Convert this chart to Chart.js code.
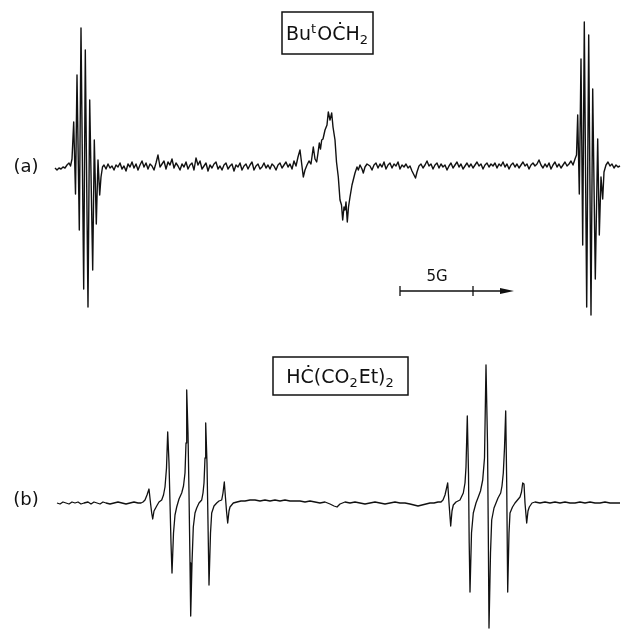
<!DOCTYPE html>
<html>
<head>
<meta charset="utf-8">
<title>EPR spectra</title>
<script src="https://cdn.jsdelivr.net/npm/chart.js@4.4.0/dist/chart.umd.min.js"></script>
<style>
    html, body { margin: 0; padding: 0; background: #ffffff; }
    canvas { display: block; }
</style>
</head>
<body>
<canvas id="eprChart" width="621" height="635"></canvas>
<script>
// ==========================================================================
// Spectrum data
// field = sweep position (scan units), signal = 1st-derivative deflection (up = +)
// ==========================================================================

// (a) ButOCH2 radical - noisy trace
const fieldA = [
    55, 57, 59, 61, 63, 65, 67, 69, 70.5, 72,
    73.7, 75.5, 77, 79.3, 81, 83.7, 85.3, 88, 89.7, 92.7,
    94.3, 96.3, 98, 99.7, 101, 102.5, 104, 106, 108, 110,
    112, 114, 116, 118, 120, 122, 124, 126, 128, 130,
    132, 134, 136, 138, 140, 142, 144, 146, 148, 150,
    152, 154, 156, 158, 160, 162, 164, 166, 168, 170,
    172, 174, 176, 178, 180, 182, 184, 186, 188, 190,
    192, 194, 196, 198, 200, 202, 204, 206, 208, 210,
    212, 214, 216, 218, 220, 222, 224, 226, 228, 230,
    232, 234, 236, 238, 240, 242, 244, 246, 248, 250,
    252, 254, 256, 258, 260, 262, 264, 266, 268, 270,
    272, 274, 276, 278, 280, 282, 284, 286, 288, 290,
    292, 294, 296, 298, 300, 303.3, 305, 307, 309, 311,
    313.3, 315, 316.7, 318, 319.3, 320.5, 321.7, 323, 325, 327,
    328.3, 330, 331.7, 333, 335, 336.5, 338.3, 340, 341.5, 342.7,
    344, 345, 346, 347.3, 348.5, 350, 352, 353.5, 355, 357,
    358.3, 360, 362, 363.3, 365, 367, 370, 372, 374, 376,
    378, 380, 382, 384, 386, 388, 390, 392, 394, 396,
    398, 400, 402, 404, 406, 408, 410, 412, 414, 415.5,
    417, 419, 421, 423, 425, 427, 429, 431, 433, 435,
    437, 439, 441, 443, 445, 447, 449, 451, 453, 455,
    457, 459, 461, 463, 465, 467, 469, 471, 473, 475,
    477, 479, 481, 483, 485, 487, 489, 491, 493, 495,
    497, 499, 501, 503, 505, 507, 509, 511, 513, 515,
    517, 519, 521, 523, 525, 527, 529, 531, 533, 535,
    537, 539, 541, 543, 545, 547, 549, 551, 553, 555,
    557, 559, 561, 563, 565, 567, 569, 571, 573, 575,
    576.5, 577.7, 579.3, 581, 582.7, 584.3, 586.7, 588.7, 591, 592.7,
    595.3, 597.7, 599.3, 601, 602.7, 604, 606, 608, 610, 612,
    614, 616, 618, 620
];
const signalA = [
    -1, -3, -1, -2, 0, -1, 2, 4, 1, 8,
    45, -27, 92, -63, 139, -122, 117, -140, 67, -103,
    27, -57, 7, -28, -10, 0, 2, -2, 3, -1,
    1, -3, 2, 0, 4, -2, 1, -4, 3, 0,
    5, -1, 3, -3, 2, 6, 0, 4, -2, 3,
    1, -3, 4, 12, 0, 3, 6, -2, 5, 2,
    8, -1, 4, 1, -3, 3, 0, 5, -2, 2,
    4, -3, 9, 2, 6, -2, 1, 4, -4, 2,
    -1, 3, 5, -2, 1, -3, 2, 4, -2, 1,
    3, -4, 2, 0, 4, -3, 1, 3, -2, 2,
    5, -3, 1, 3, -2, 0, 4, -1, 2, -2,
    3, 1, -3, 2, 4, -1, 2, 5, 0, 3,
    -2, 6, 1, 10, 17, -10, -3, 2, 6, 3,
    20, 8, 5, 14, 24, 18, 27, 28, 37, 42,
    55, 47, 54, 40, 27, 5, -10, -33, -38, -53,
    -40, -43, -35, -55, -40, -30, -18, -12, -6, 0,
    -3, 2, -2, -6, 0, 3, 1, -3, 2, 4,
    -1, 3, 0, 5, -2, 2, 4, -1, 3, 1,
    5, -2, 2, 0, 3, -1, 1, -4, -8, -11,
    -5, 1, 3, -1, 2, 6, 1, 3, -2, 2,
    4, -1, 3, 0, 2, -3, 1, 4, -1, 2,
    5, 0, 3, -2, 1, 4, 0, 3, -1, 2,
    5, 1, 3, -2, 2, 4, 0, 3, 1, 4,
    -1, 3, 1, 5, 0, 3, -2, 2, 4, 0,
    3, -1, 2, 5, 1, 3, -2, 2, 4, 1,
    3, 7, 2, -1, 3, 0, 4, -2, 2, 5,
    0, 3, -1, 2, 5, 1, 3, 6, 2, 8,
    12, 52, -27, 108, -78, 145, -140, 132, -148, 78,
    -112, 28, -68, -10, -32, -5, 2, 5, 1, 3,
    -1, 2, 0, 1
];

// (b) HC(CO2Et)2 radical - two quintets
const fieldB = [
    57, 60, 63, 66, 69, 72, 75, 78, 81, 84,
    88, 91, 94, 97, 100, 103, 106, 110, 114, 118,
    122, 126, 130, 134, 138, 141, 143, 145, 147, 149,
    150.5, 151.7, 152.7, 154, 156.7, 159, 161.7, 163.5, 165, 166.5,
    167.7, 169, 170, 171, 172, 173.5, 175, 176.7, 179, 181.7,
    183.5, 185, 186, 186.7, 188, 189, 190, 190.7, 192, 193.3,
    195, 196.7, 199, 201.7, 203, 204, 205, 205.7, 207, 208,
    209, 210.5, 211.7, 214, 216.7, 219, 221.7, 223, 224.3, 225.5,
    226.5, 227.7, 229, 230, 233.3, 237, 241, 245, 250, 255,
    260, 265, 270, 275, 280, 285, 290, 295, 300, 305,
    310, 315, 320, 325, 330, 334, 337, 340, 345, 350,
    355, 360, 365, 370, 375, 380, 385, 390, 395, 400,
    405, 410, 414, 418, 422, 426, 430, 434, 438, 441,
    443, 445, 447.7, 449, 450.7, 452, 453.3, 456, 460, 463.3,
    465, 466, 467.3, 468.5, 469.2, 470, 471.5, 473.3, 476, 478.3,
    480.5, 482.7, 484.5, 486, 487.5, 488.3, 489, 490.5, 491.7, 494,
    496, 498, 500.7, 502, 503.3, 504.5, 505.7, 506.7, 507.7, 509,
    510, 512.5, 515, 517.5, 520, 521.5, 522.7, 524, 525, 526.7,
    528, 529.3, 532, 535, 540, 545, 550, 555, 560, 565,
    570, 575, 580, 585, 590, 595, 600, 605, 610, 615,
    620
];
const signalB = [
    0, -1, 1, 0, -1, 1, 0, 1, -1, 0,
    1, -1, 1, 0, -1, 1, 0, -1, 0, 1,
    0, -1, 0, 1, 0, 0, 1, 3, 8, 14,
    0, -10, -16, -8, -3, 1, 3, 8, 16, 35,
    71, 40, 0, -40, -70, -30, -12, -4, 4, 10,
    17, 30, 60, 113, 70, 10, -60, -113, -60, -24,
    -10, -5, 0, 3, 10, 20, 45, 80, 40, -20,
    -82, -30, -10, -3, 0, 2, 3, 10, 21, 5,
    -8, -20, -8, -4, 0, 1, 2, 2, 3, 3,
    2, 3, 2, 3, 2, 3, 2, 2, 2, 1,
    2, 1, 0, 1, -1, -3, -4, -1, 1, 0,
    1, 0, -1, 0, 1, 0, -1, 0, 1, 0,
    0, -1, -2, -3, -2, -1, 0, 0, 1, 1,
    3, 8, 20, 0, -23, -8, -2, 1, 3, 10,
    20, 36, 87, 30, -40, -89, -30, -10, 0, 6,
    12, 23, 45, 138, 60, -30, -125, -50, -17, -5,
    0, 5, 10, 17, 30, 55, 92, 20, -89, -30,
    -10, -4, 0, 3, 6, 11, 20, 19, 0, -20,
    -8, -4, 0, 1, 0, 1, 0, 1, 0, 1,
    0, 0, 1, 0, 1, 0, 0, 1, 0, 0,
    0
];

// Etiketler
const traceLabels = ['(a)', '(b)'];
const scaleBarText = '5G';

// ==========================================================================
// Layout / style
// ==========================================================================
const A_OFFSET = 336;           // trace (a) drawn above trace (b)
const INK = '#111111';
const FONT = '"DejaVu Sans", sans-serif';

// Anotasyon çizici (kutulu başlıklar, (a)/(b), ölçek çubuğu)
const annotationPlugin = {
    id: 'eprAnnotations',
    afterDraw(chart) {
        const { ctx, scales: { x, y } } = chart;
        const px = v => x.getPixelForValue(v);
        const py = v => y.getPixelForValue(v);

        ctx.save();
        ctx.fillStyle = INK;
        ctx.strokeStyle = INK;

        // (a) / (b)
        ctx.font = '18px ' + FONT;
        ctx.textAlign = 'center';
        ctx.textBaseline = 'middle';
        ctx.fillText(traceLabels[0], px(26), py(A_OFFSET));
        ctx.fillText(traceLabels[1], px(26), py(3));

        // boxed radical names
        drawBox(ctx, px(282), py(491), px(373), py(449));
        drawRich(ctx, [
            { t: 'Bu' }, { t: 't', sup: true }, { t: 'OĊH' }, { t: '2', sub: true }
        ], px(327.5), py(463));

        drawBox(ctx, px(273), py(146), px(408), py(108));
        drawRich(ctx, [
            { t: 'HĊ(CO' }, { t: '2', sub: true }, { t: 'Et)' }, { t: '2', sub: true }
        ], px(340.5), py(120));

        // 5 G scale bar with arrow
        const barY = py(212);
        ctx.lineWidth = 1.3;
        ctx.beginPath();
        ctx.moveTo(px(400), barY);
        ctx.lineTo(px(504), barY);
        ctx.moveTo(px(400), py(217));
        ctx.lineTo(px(400), py(207));
        ctx.moveTo(px(473), py(217));
        ctx.lineTo(px(473), py(207));
        ctx.stroke();
        ctx.beginPath();
        ctx.moveTo(px(514), barY);
        ctx.lineTo(px(500), barY - 3);
        ctx.lineTo(px(500), barY + 3);
        ctx.closePath();
        ctx.fill();

        ctx.font = '15px ' + FONT;
        ctx.textAlign = 'center';
        ctx.textBaseline = 'middle';
        ctx.fillText(scaleBarText, px(437), py(226));

        ctx.restore();
    }
};

function drawBox(ctx, x1, y1, x2, y2) {
    ctx.lineWidth = 1.5;
    ctx.strokeRect(x1, y1, x2 - x1, y2 - y1);
}

// Normal / üst simge / alt simge parçalarını ortalayarak yaz
function drawRich(ctx, parts, cx, baseY) {
    const big = '19px ' + FONT;
    const small = '13px ' + FONT;
    ctx.textAlign = 'left';
    ctx.textBaseline = 'alphabetic';
    let total = 0;
    parts.forEach(p => {
        ctx.font = (p.sup || p.sub) ? small : big;
        p.w = ctx.measureText(p.t).width + ((p.sup || p.sub) ? 1 : 0);
        total += p.w;
    });
    let xPos = cx - total / 2;
    parts.forEach(p => {
        ctx.font = (p.sup || p.sub) ? small : big;
        const dy = p.sup ? -7 : (p.sub ? 4 : 0);
        ctx.fillText(p.t, xPos, baseY + dy);
        xPos += p.w;
    });
}

// ==========================================================================
// Chart
// ==========================================================================
function renderSpectra() {
    const canvas = document.getElementById('eprChart');
    const ctx = canvas.getContext('2d');

    const traceA = fieldA.map((f, i) => ({ x: f, y: signalA[i] + A_OFFSET }));
    const traceB = fieldB.map((f, i) => ({ x: f, y: signalB[i] }));

    new Chart(ctx, {
        type: 'line',
        data: {
            datasets: [
                {
                    label: 'ButOCH2',
                    data: traceA,
                    borderColor: INK,
                    borderWidth: 1.4,
                    borderJoinStyle: 'round',
                    pointRadius: 0,
                    tension: 0,
                    fill: false
                },
                {
                    label: 'HC(CO2Et)2',
                    data: traceB,
                    borderColor: INK,
                    borderWidth: 1.3,
                    borderJoinStyle: 'round',
                    pointRadius: 0,
                    tension: 0,
                    fill: false
                }
            ]
        },
        options: {
            responsive: false,
            animation: false,
            devicePixelRatio: 1,
            events: [],
            layout: { padding: 0 },
            plugins: {
                legend: { display: false },
                tooltip: { enabled: false }
            },
            scales: {
                x: { type: 'linear', min: 0, max: 621, display: false },
                y: { type: 'linear', min: -132, max: 503, display: false }
            }
        },
        plugins: [annotationPlugin]
    });
}

renderSpectra();
</script>
</body>
</html>
